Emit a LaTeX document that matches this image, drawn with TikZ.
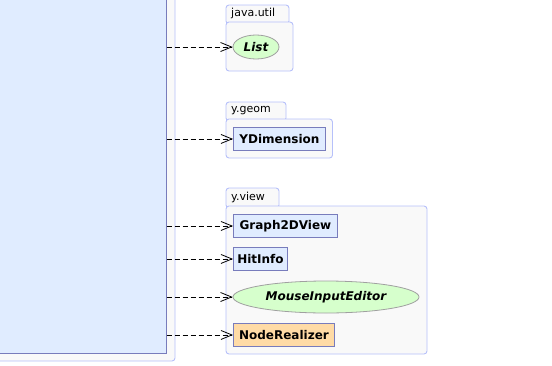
\documentclass[tikz,border=0pt]{standalone}
\usepackage{fontspec}
\setmainfont{DejaVu Sans}
\usetikzlibrary{arrows.meta}
\definecolor{clsfill}{RGB}{224,236,255}
\definecolor{clsdraw}{RGB}{120,124,188}
\definecolor{pkgfill}{RGB}{249,249,249}
\definecolor{pkgdraw}{RGB}{182,192,250}
\definecolor{ifill}{RGB}{214,255,204}
\definecolor{idraw}{RGB}{160,160,160}
\definecolor{rfill}{RGB}{255,219,166}
\tikzset{
  pkgshape/.style={draw=pkgdraw, fill=pkgfill, line width=0.9pt, rounded corners=3pt},
  pkglabel/.style={anchor=west, inner sep=0pt, font=\fontsize{11}{13}\selectfont, text=black},
  cls/.style={draw=clsdraw, fill=clsfill, line width=0.9pt, anchor=north west, inner sep=0pt, minimum height=23pt, font=\fontsize{12}{14}\selectfont\bfseries},
  iface/.style={draw=idraw, fill=ifill, line width=0.8pt, ellipse, inner sep=0pt, font=\fontsize{12}{14}\selectfont\bfseries\itshape},
  dep/.style={draw=black, line width=0.8pt, dash pattern=on 5pt off 3pt, -{Straight Barb[length=11pt,width=9pt]}}
}
\usetikzlibrary{shapes.geometric}
\begin{document}
\begin{tikzpicture}[x=1pt,y=-1pt]
\useasboundingbox (0,0) rectangle (552,365);
% left package and class
\draw[pkgshape] (-10,-10) rectangle (175,361);
\node[draw=clsdraw, fill=clsfill, line width=0.9pt, anchor=south east, minimum width=200pt, minimum height=380pt, inner sep=0pt] (big) at (166.5,354) {};
% java.util
\draw[pkgshape] (226,5) rectangle (289,24);
\draw[pkgshape] (226,22) rectangle (293,71);
\node[pkglabel] (pjava) at (231,13.5) {java.util};
% y.geom
\draw[pkgshape] (226,102) rectangle (286,121);
\draw[pkgshape] (226,119) rectangle (332.5,158);
\node[pkglabel] (pgeom) at (231,110.5) {y.geom};
% y.view
\draw[pkgshape] (226,188) rectangle (279,208);
\draw[pkgshape] (226,206) rectangle (427,354);
\node[pkglabel] (pview) at (231,197) {y.view};
% nodes
\node[iface, minimum width=46pt, minimum height=24pt] (list) at (256,47) {List};
\node[cls, minimum width=92pt] (ydim) at (233,127) {YDimension};
\node[cls, minimum width=104pt] (g2d) at (233,214) {Graph2DView};
\node[cls, minimum width=54pt] (hit) at (233,247) {HitInfo};
\node[iface, minimum width=186pt, minimum height=32pt] (mie) at (326,297) {MouseInputEditor};
\node[cls, fill=rfill, minimum width=101pt] (nr) at (233,323) {NodeRealizer};
% dependencies
\draw[dep] (big.east |- list.west) -- (list.west);
\draw[dep] (big.east |- ydim.west) -- (ydim.west);
\draw[dep] (big.east |- g2d.west) -- (g2d.west);
\draw[dep] (big.east |- hit.west) -- (hit.west);
\draw[dep] (big.east |- mie.west) -- (mie.west);
\draw[dep] (big.east |- nr.west) -- (nr.west);
\end{tikzpicture}
\end{document}
